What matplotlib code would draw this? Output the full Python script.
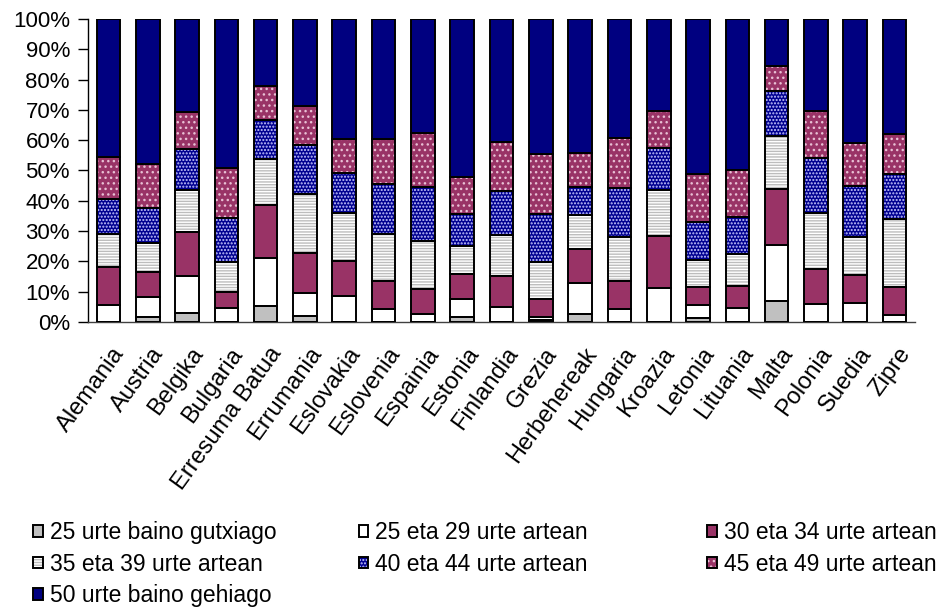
import numpy as np
import matplotlib.pyplot as plt
from matplotlib.ticker import PercentFormatter
from matplotlib.transforms import ScaledTranslation


plt.rcParams['font.family'] = ['Liberation Sans', 'DejaVu Sans']
plt.rcParams['hatch.linewidth'] = 1.0


#-----------Data (% of each country)-------------

countries = ['Alemania', 'Austria', 'Belgika', 'Bulgaria', 'Erresuma Batua',
             'Errumania', 'Eslovakia', 'Eslovenia', 'Espainia', 'Estonia',
             'Finlandia', 'Grezia', 'Herbehereak', 'Hungaria', 'Kroazia',
             'Letonia', 'Lituania', 'Malta', 'Polonia', 'Suedia', 'Zipre']

age_lt25  = [0.0, 1.6, 3.1, 0.0, 5.2, 2.0, 0.0, 0.0, 0.0, 1.5, 0.0,
             0.5, 2.6, 0.0, 0.0, 1.2, 0.0, 6.8, 0.0, 0.0, 0.0]
age_25_29 = [5.6, 6.6, 12.1, 4.6, 16.0, 7.7, 8.6, 4.2, 2.6, 6.2, 5.0,
             1.3, 10.2, 4.2, 11.3, 4.5, 4.6, 18.6, 5.8, 6.3, 2.3]
age_30_34 = [12.4, 8.4, 14.6, 5.2, 17.4, 13.2, 11.5, 9.4, 8.4, 8.1, 10.2,
             5.7, 11.2, 9.4, 17.2, 6.0, 7.3, 18.6, 11.6, 9.2, 9.4]
age_35_39 = [10.9, 9.4, 13.8, 9.9, 15.2, 19.2, 16.0, 15.3, 15.7, 9.3, 13.4,
             12.2, 11.3, 14.6, 15.1, 8.8, 10.5, 17.4, 18.7, 12.7, 22.3]
age_40_44 = [11.7, 11.7, 13.4, 14.7, 12.8, 16.3, 13.2, 16.5, 18.0, 10.5, 14.7,
             15.9, 9.4, 15.9, 13.7, 12.6, 12.4, 14.8, 17.9, 16.7, 14.7]
age_45_49 = [13.8, 14.4, 12.2, 16.5, 11.4, 13.0, 11.0, 15.0, 17.8, 12.4, 16.2,
             19.8, 11.0, 16.5, 12.3, 15.6, 15.4, 8.4, 15.6, 14.3, 13.2]
age_gt50  = [45.6, 47.9, 30.8, 49.1, 22.0, 28.6, 39.7, 39.6, 37.5, 52.0, 40.5,
             44.6, 44.3, 39.4, 30.4, 51.3, 49.8, 15.4, 30.4, 40.8, 38.1]

labels = ['25 urte baino gutxiago', '25 eta 29 urte artean',
          '30 eta 34 urte artean', '35 eta 39 urte artean',
          '40 eta 44 urte artean', '45 eta 49 urte artean',
          '50 urte baino gehiago']
series = [age_lt25, age_25_29, age_30_34, age_35_39,
          age_40_44, age_45_49, age_gt50]

#  (face colour, hatch, hatch colour)
styles = [('#C0C0C0', None, '#C0C0C0'),
          ('white', None, 'white'),
          ('#993366', None, '#993366'),
          ('white', '------', '#BDBDBD'),
          ('#000090', '.....', '#C8C8FF'),
          ('#993366', '...', '#E8C0D4'),
          ('#000080', None, '#000080')]


#-----------Figure-------------

fig = plt.figure(figsize=(9.44, 6.09), dpi=100)
ax = fig.add_axes([0.0932, 0.4713, 0.8761, 0.4975])

x = np.arange(len(countries))
bottom = np.zeros(len(countries))
handles = []
for values, (fc, hatch, hc) in zip(series, styles):
    values = np.array(values)
    fill = ax.bar(x, values, 0.6, bottom=bottom, color=fc, edgecolor=hc,
                  hatch=hatch, linewidth=0, zorder=2)
    edge = ax.bar(x, values, 0.6, bottom=bottom, fill=False,
                  edgecolor='black', linewidth=1.4, zorder=3)
    handles.append((fill, edge))
    bottom += values


#-----------Axes-------------

ax.set_xlim(-0.52, len(countries) - 0.48)
ax.set_ylim(0, 100)
ax.set_yticks(np.arange(0, 101, 10))
ax.yaxis.set_major_formatter(PercentFormatter(decimals=0))
ax.tick_params(axis='y', labelsize=16, length=7, width=1, pad=6)
ax.tick_params(axis='x', labelsize=17, length=0, pad=20)
ax.set_xticks(x)
ax.set_xticklabels(countries, rotation=54, ha='right', va='center',
                   rotation_mode='anchor')
shift = ScaledTranslation(0.12, 0, fig.dpi_scale_trans)
for lbl in ax.get_xticklabels():
    lbl.set_transform(lbl.get_transform() + shift)

for side in ['top', 'right']:
    ax.spines[side].set_visible(False)
ax.spines['left'].set_linewidth(1)
ax.spines['bottom'].set_linewidth(1)
ax.spines['bottom'].set_color('#404040')


#-----------Legend (three columns, row-major order)-------------

col_x = [0.035, 0.38, 0.749]
for c, xpos in enumerate(col_x):
    idx = list(range(c, len(labels), 3))
    fig.legend([handles[i] for i in idx], [labels[i] for i in idx],
               loc='upper left', bbox_to_anchor=(xpos, 1 - 521 / 609),
               bbox_transform=fig.transFigure, frameon=False, fontsize=16.5,
               handlelength=0.42, handleheight=0.42, handletextpad=0.3,
               labelspacing=0.38, borderpad=0, borderaxespad=0)

fig.savefig('out.png', dpi=100)
